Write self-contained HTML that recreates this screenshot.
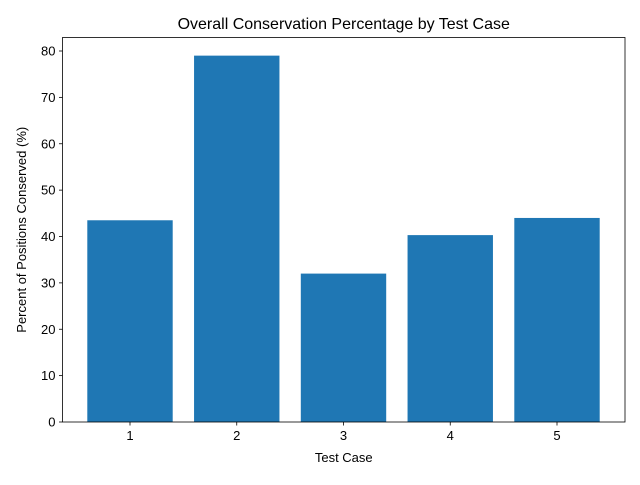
<!DOCTYPE html>
<html><head><meta charset="utf-8"><style>
body{margin:0;background:#fff;font-family:"Liberation Sans","DejaVu Sans",sans-serif}
</style></head><body>
<svg width="640" height="480" xmlns="http://www.w3.org/2000/svg">
<g id="g"></g>
</svg>
<script>
const categories=["1","2","3","4","5"];
const values=[43.5,79,32,40.3,44];
const yTicks=[0,10,20,30,40,50,60,70,80];
const L=62.5,R=625,T=37.5,B=422;
const xs=c=>130+c*106.75;
const ys=v=>B-v*4.6375;
const g=document.getElementById('g');
const NS="http://www.w3.org/2000/svg";
function mk(t,a,txt){const e=document.createElementNS(NS,t);for(const k in a)e.setAttribute(k,a[k]);if(txt!=null)e.textContent=txt;g.appendChild(e);return e;}
categories.forEach((c,i)=>{
 const w=0.8*106.75;
 const r=mk('rect',{x:xs(i)-w/2,y:ys(values[i]),width:w,height:B-ys(values[i]),fill:'#1f77b4'});
 
 
 const t=mk('line',{x1:xs(i),x2:xs(i),y1:B,y2:B+3.5,stroke:'#000','stroke-width':0.8});
 
 
 const l=mk('text',{x:xs(i),y:B+18,'text-anchor':'middle','font-size':13,fill:'#000'},c);
 
 
});
yTicks.forEach(v=>{
 const t=mk('line',{x1:L-3.5,x2:L,y1:ys(v),y2:ys(v),stroke:'#000','stroke-width':0.8});
 
 
 const l=mk('text',{x:L-7,y:ys(v)+4.5,'text-anchor':'end','font-size':13,fill:'#000'},String(v));
 
 
});
const f=mk('rect',{x:L,y:T,width:R-L,height:B-T,fill:'none',stroke:'#000','stroke-width':0.8});


const ti=mk('text',{x:(L+R)/2,y:29,'text-anchor':'middle','font-size':16,fill:'#000'},'Overall Conservation Percentage by Test Case');


const xt=mk('text',{x:(L+R)/2,y:462,'text-anchor':'middle','font-size':13,fill:'#000'},'Test Case');


const yt=mk('text',{x:0,y:0,'text-anchor':'middle','font-size':13,fill:'#000',transform:'translate(26,'+((T+B)/2)+') rotate(-90)'},'Percent of Positions Conserved (%)');


</script>
</body></html>
